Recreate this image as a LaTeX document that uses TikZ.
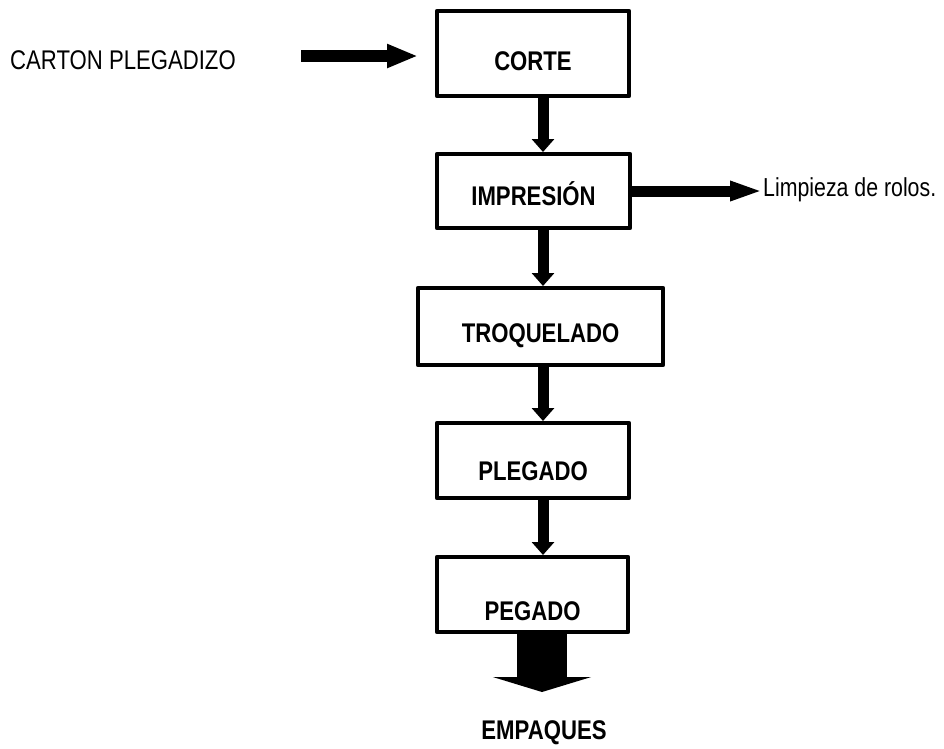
\documentclass[tikz,border=0pt]{standalone}
\usepackage{fontspec}
\setmainfont{Liberation Sans}[FakeStretch=0.82]
\usetikzlibrary{arrows.meta}
\tikzset{
  stage/.style={draw, line width=3.6pt, line join=round, minimum width=192.4pt,
    inner sep=0pt, text depth=0pt, font=\fontsize{27}{30}\selectfont\bfseries},
  flow/.style={line width=11pt, -{Triangle[width=22pt,length=13pt]}},
}
\begin{document}
\begin{tikzpicture}[x=1pt,y=-1pt]
  \useasboundingbox (0,0) rectangle (944,748);

  \node[stage, minimum height=85.4pt, text height=33pt] (corte) at (533,53.5) {CORTE};
  \node[stage, minimum width=193.4pt, minimum height=74.4pt, text height=28pt] (impr) at (533.5,191) {IMPRESIÓN};
  \node[stage, minimum width=245.4pt, minimum height=77.4pt, text height=31pt] (troq) at (540.5,326.5) {TROQUELADO};
  \node[stage, minimum height=75.4pt, text height=39pt] (pleg) at (533,460.5) {PLEGADO};
  \node[stage, minimum width=191.4pt, minimum height=75.4pt, text height=51pt] (peg) at (532.5,594.5) {PEGADO};

  \node[anchor=base west, inner sep=0pt, font=\fontsize{27}{30}\selectfont] (carton) at (10,69) {CARTON PLEGADIZO};
  \node[anchor=west, inner sep=0pt, font=\fontsize{26}{30}\selectfont] (limp) at (763,190) {Limpieza de rolos.};
  \node[anchor=base, inner sep=0pt, font=\fontsize{27}{30}\selectfont\bfseries] (empaques) at (544,739) {EMPAQUES};

  % flechas
  \coordinate (spine) at (543,0);
  \foreach \a/\b in {corte/impr, impr/troq, troq/pleg, pleg/peg}
    \draw[flow] (\a.south -| spine) -- (\b.north -| spine);

  \coordinate (feed) at (301,56);
  \draw[line width=12pt, -{Triangle[width=22pt,length=31pt]}] (feed) -- ([xshift=-17pt]corte.west |- feed);

  \draw[line width=11pt, -{Triangle[width=18pt,length=33pt]}] (impr.east) -- (impr.east -| limp.west);

  \coordinate (outlet) at (542,692);
  \draw[line width=50pt, -{Triangle[width=98pt,length=15pt]}] (peg.south -| outlet) -- (outlet);

\end{tikzpicture}
\end{document}
